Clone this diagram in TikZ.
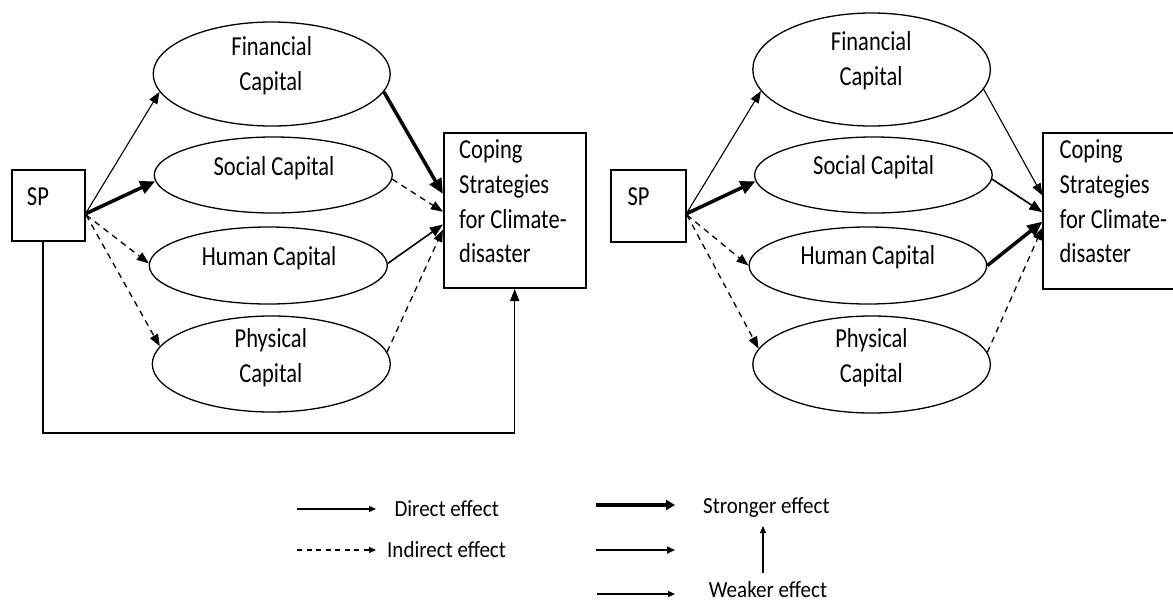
\documentclass[tikz,border=0pt]{standalone}
\usepackage{fontspec}
\setmainfont{Carlito}
\usetikzlibrary{shapes.geometric,arrows.meta,calc}

\begin{document}
\begin{tikzpicture}[x=1pt,y=-1pt,
  capnode/.style={draw, ellipse, line width=1.3pt, inner sep=0pt},
  boxnode/.style={draw, rectangle, line width=2pt, inner sep=0pt},
  lbl/.style={font=\fontsize{22.5}{27}\selectfont, inner sep=0pt,
              yscale=1.22, transform shape, anchor=base},
  lbll/.style={lbl, anchor=base west},
  legtxt/.style={font=\fontsize{21}{25}\selectfont, inner sep=0pt,
                 yscale=1.1, transform shape, anchor=base west},
  effweak/.style={line width=1.1pt, -{Triangle[length=12pt,width=9pt]}},
  effmid/.style={line width=1.6pt, -{Triangle[length=13pt,width=10pt]}},
  effstrong/.style={line width=3.5pt, -{Triangle[length=15pt,width=13pt]}},
  effind/.style={line width=1.3pt, dash pattern=on 6pt off 5pt,
                 -{Triangle[length=12pt,width=9pt]}},
  legweak/.style={line width=1.1pt, -{Triangle[length=7pt,width=6pt]}},
  legmid/.style={line width=1.8pt, -{Triangle[length=8pt,width=7pt]}},
  legstrong/.style={line width=3.6pt, -{Triangle[length=9pt,width=10pt]}},
  legdirect/.style={line width=1.3pt, -{Triangle[length=7pt,width=6pt]}},
  legind/.style={line width=1.2pt, dash pattern=on 5pt off 4.5pt,
                 -{Triangle[length=7pt,width=6pt]}},
]
\useasboundingbox (0,0) rectangle (1173,603);

% ---------------- left model ----------------
\node[boxnode, minimum width=73.5pt, minimum height=71pt] (spA) at (48.3,205.5) {};
\node[lbll] (spAt) at (26.8,205) {SP};

\node[capnode, minimum width=237pt, minimum height=104pt] (finA) at (271.7,74) {};
\node[capnode, minimum width=238pt, minimum height=76pt] (socA) at (273.3,175) {};
\node[capnode, minimum width=238pt, minimum height=77pt] (humA) at (268.3,265.5) {};
\node[capnode, minimum width=238pt, minimum height=96pt] (phyA) at (271.3,364) {};
\node[boxnode, minimum width=141.6pt, minimum height=155pt] (copeA) at (514.7,210.5) {};

\node[lbl] (finA1) at (271.7,55) {Financial};
\node[lbl] (finA2) at (270.8,90) {Capital};
\node[lbl] (socAt) at (274,175) {Social Capital};
\node[lbl] (humAt) at (269.2,265) {Human Capital};
\node[lbl] (phyA1) at (270.8,347) {Physical};
\node[lbl] (phyA2) at (270.8,382) {Capital};
\node[lbll] (copeA1) at (459,158) {Coping};
\node[lbll] (copeA2) at (459,193) {Strategies};
\node[lbll] (copeA3) at (459,228) {for Climate-};
\node[lbll] (copeA4) at (459,262) {disaster};

\draw[effweak]   (spA.-11) -- (finA.189);
\draw[effstrong] (spA.-12) -- (socA.183);
\draw[effind]    (spA.-14) -- (humA.179);
\draw[effind]    (spA.-14) -- (phyA.171);

\draw[effstrong] (finA.351.5) -- (copeA.167.5);
\draw[effind]    (socA.358.4) -- (copeA.181);
\draw[effmid]    (humA.1)     -- (copeA.191);
\draw[effind]    (phyA.6.7)   -- (copeA.195);

\coordinate (loopA) at (514.7,433);
\draw[line width=1.4pt, -{Triangle[length=12pt,width=9pt]}]
  ([xshift=-5.4pt]spA.south) |- (loopA) -- (copeA.south);

% ---------------- right model ----------------
\node[boxnode, minimum width=75pt, minimum height=72pt] (spB) at (648.4,206) {};
\node[lbll] (spBt) at (627.4,205) {SP};

\node[capnode, minimum width=237.6pt, minimum height=113pt] (finB) at (871.6,69.5) {};
\node[capnode, minimum width=237.6pt, minimum height=76pt] (socB) at (873.4,175) {};
\node[capnode, minimum width=237.6pt, minimum height=77pt] (humB) at (867.9,265.5) {};
\node[capnode, minimum width=237.6pt, minimum height=97pt] (phyB) at (871.6,364.5) {};
\node[boxnode, minimum width=132.7pt, minimum height=156pt] (copeB) at (1109.7,211) {};

\node[lbl] (finB1) at (871.2,50) {Financial};
\node[lbl] (finB2) at (871,85) {Capital};
\node[lbl] (socBt) at (873.6,174) {Social Capital};
\node[lbl] (humBt) at (867.9,264) {Human Capital};
\node[lbl] (phyB1) at (871.4,347) {Physical};
\node[lbl] (phyB2) at (871.4,382) {Capital};
\node[lbll] (copeB1) at (1059.4,158) {Coping};
\node[lbll] (copeB2) at (1059.4,193) {Strategies};
\node[lbll] (copeB3) at (1059.4,228) {for Climate-};
\node[lbll] (copeB4) at (1059.4,262) {disaster};

\draw[effweak]   (spB.-10) -- (finB.191);
\draw[effstrong] (spB.-11) -- (socB.183);
\draw[effind]    (spB.-13) -- (humB.180);
\draw[effind]    (spB.-13) -- (phyB.172.4);

\draw[effweak]   (finB.350.3) -- (copeB.167.8);
\draw[effmid]    (socB.358.4) -- (copeB.181.7);
\draw[effstrong] (humB.0)     -- (copeB.189.4);
\draw[effind]    (phyB.6.1)   -- (copeB.194);

% ---------------- legend ----------------
\coordinate (ldS) at (297,509);  \coordinate (ldE) at (376,509);
\coordinate (liS) at (297,550);  \coordinate (liE) at (376,550);
\coordinate (lsS) at (596,505);  \coordinate (lsE) at (675,505);
\coordinate (lmS) at (596,550);  \coordinate (lmE) at (675,550);
\coordinate (lwS) at (597,594);  \coordinate (lwE) at (675,594);
\coordinate (lvS) at (763,573);  \coordinate (lvE) at (763,526);

\draw[legdirect] (ldS) -- (ldE);
\draw[legind]    (liS) -- (liE);
\draw[legstrong] (lsS) -- (lsE);
\draw[legmid]    (lmS) -- (lmE);
\draw[legweak]   (lwS) -- (lwE);
\draw[legweak]   (lvS) -- (lvE);

\node[legtxt] (tdirect) at (394.3,516) {Direct effect};
\node[legtxt] (tindirect) at (387,557) {Indirect effect};
\node[legtxt] (tstrong) at (703,513) {Stronger effect};
\node[legtxt] (tweak) at (708.6,597.5) {Weaker effect};
\end{tikzpicture}
\end{document}
